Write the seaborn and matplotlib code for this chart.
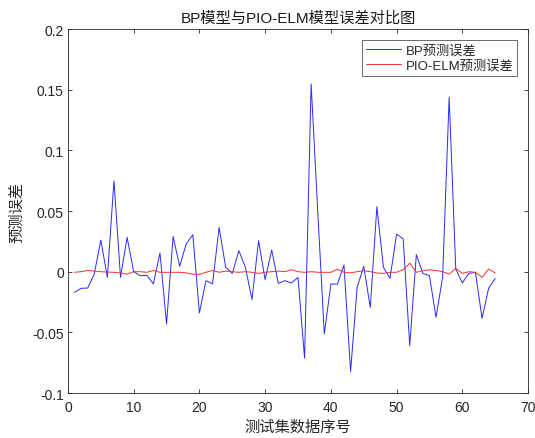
import numpy as np
import pandas as pd
import matplotlib
matplotlib.use("Agg")
import matplotlib.pyplot as plt
import seaborn as sns

x_index = list(range(1, 66))
bp_error = [
    -0.017, -0.0137, -0.0135, -0.002, 0.026, -0.0047, 0.075, -0.0047, 0.0283, 0.0,
    -0.0033, -0.003, -0.010, 0.0154, -0.043, 0.029, 0.0044, 0.023, 0.0305, -0.034,
    -0.0074, -0.010, 0.0365, 0.0036, -0.0014, 0.0173, 0.0036, -0.023, 0.0255, -0.0066,
    0.0179, -0.0096, -0.0074, -0.0093, -0.0047, -0.0712, 0.1547, 0.05, -0.0514, -0.0102,
    -0.0102, 0.0055, -0.0824, -0.0129, 0.0044, -0.0294, 0.0536, 0.0036, -0.0055, 0.031,
    0.027, -0.061, 0.014, -0.0014, -0.0033, -0.0376, -0.0047, 0.144, 0.0022, -0.0093,
    -0.0014, -0.0005, -0.0385, -0.0137, -0.0055,
]
pio_elm_error = [
    -0.0005, 0.0, 0.001, 0.0005, 0.0, -0.0003, -0.0005, -0.001, -0.002, 0.0,
    0.0, -0.0005, 0.001, -0.0005, -0.0005, -0.0005, -0.0005, -0.001, -0.002, -0.0022,
    -0.0005, 0.001, -0.0005, 0.0005, 0.0, -0.0005, 0.0, -0.0005, -0.0014, -0.0005,
    0.0, 0.0005, 0.0, 0.0016, 0.0, -0.0005, 0.0, -0.0005, -0.0005, -0.0005,
    0.002, -0.0005, -0.001, 0.0, 0.0008, 0.0, -0.001, -0.0014, -0.0005, -0.0005,
    0.0016, 0.007, -0.0005, 0.0008, 0.0016, 0.001, 0.0, -0.002, 0.0027, -0.0014,
    0.0, -0.0005, -0.0047, 0.0022, -0.001,
]
series_names = ["BP预测误差", "PIO-ELM预测误差"]
series_colors = ["#2a2af5", "#f03030"]

sns.set_style("ticks")
plt.rcParams["font.family"] = ["Liberation Sans", "Noto Sans CJK SC", "DejaVu Sans"]
plt.rcParams["axes.unicode_minus"] = False

df = pd.DataFrame({
    "idx": x_index * 2,
    "err": bp_error + pio_elm_error,
    "series": [series_names[0]] * len(x_index) + [series_names[1]] * len(x_index),
})

fig = plt.figure(figsize=(5.35, 4.39), dpi=100)
ax = fig.add_axes([0.127, 0.1025, 0.86, 0.829])

sns.lineplot(data=df, x="idx", y="err", hue="series", palette=series_colors,
             hue_order=series_names, linewidth=0.7, ax=ax, legend=True)

ax.set_xlim(0, 70)
ax.set_ylim(-0.1, 0.2)
ax.set_xticks(np.arange(0, 71, 10))
ax.set_yticks([-0.1, -0.05, 0, 0.05, 0.1, 0.15, 0.2])
ax.set_yticklabels(["-0.1", "-0.05", "0", "0.05", "0.1", "0.15", "0.2"])
ax.tick_params(direction="in", length=3, width=0.6, labelsize=10, colors="#262626",
               top=True, right=True, labelcolor="#262626", pad=3)
ax.tick_params(axis="x", pad=5)
for sp in ax.spines.values():
    sp.set_linewidth(0.6)
    sp.set_color("#262626")
    sp.set_visible(True)

ax.set_xlabel("测试集数据序号", fontsize=11, color="#262626", labelpad=4)
ax.set_ylabel("预测误差", fontsize=11, color="#262626", labelpad=6)
ax.set_title("BP模型与PIO-ELM模型误差对比图", fontsize=11, color="#1a1a1a", pad=5)

leg = ax.legend(loc="upper right", fontsize=9.5, frameon=True, fancybox=False,
                edgecolor="#262626", handlelength=2.6, borderaxespad=0.8,
                borderpad=0.3, labelspacing=0.2, handletextpad=0.4)
leg.get_frame().set_linewidth(0.6)

fig.savefig("out.png", dpi=100)
